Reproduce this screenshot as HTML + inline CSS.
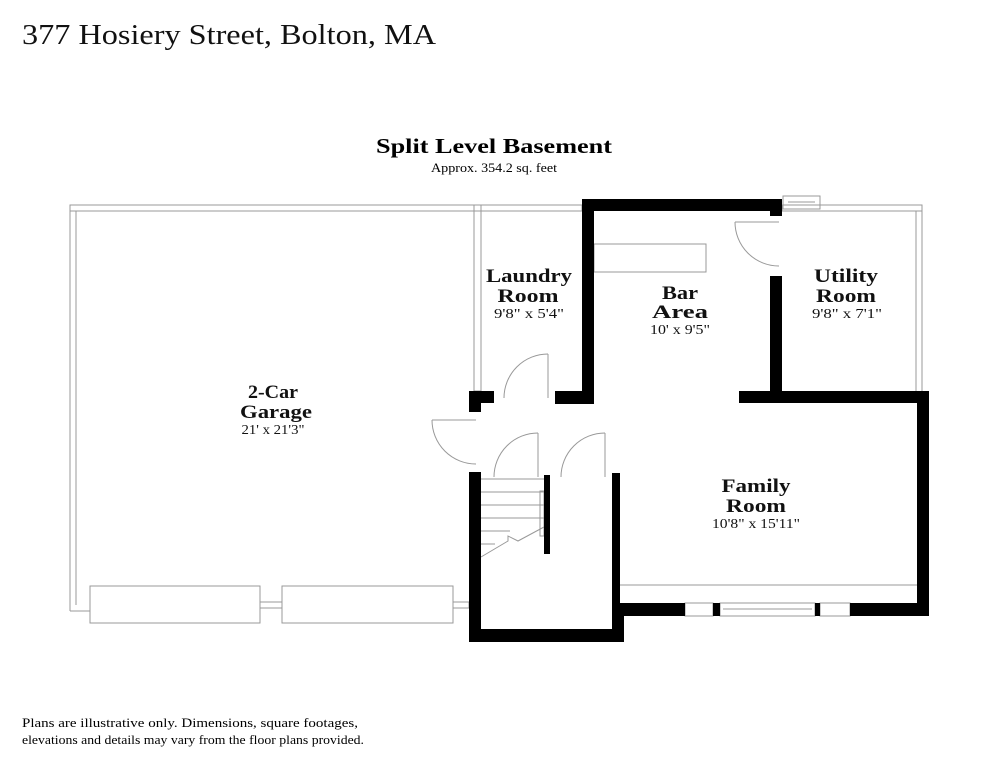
<!DOCTYPE html>
<html><head><meta charset="utf-8"><style>
body{margin:0;background:#fff;}
svg{display:block;font-family:"Liberation Serif",serif;}
</style></head><body>
<svg width="994" height="768" viewBox="0 0 994 768" xmlns="http://www.w3.org/2000/svg">
<rect width="994" height="768" fill="#fff"/>
<text x="22" y="44" font-size="29" fill="#111" textLength="414" lengthAdjust="spacingAndGlyphs">377 Hosiery Street, Bolton, MA</text>
<text x="494" y="153" font-size="21" font-weight="bold" text-anchor="middle" textLength="236" lengthAdjust="spacingAndGlyphs">Split Level Basement</text>
<text x="494" y="172" font-size="12.5" text-anchor="middle" textLength="126" lengthAdjust="spacingAndGlyphs">Approx. 354.2 sq. feet</text>

<g fill="none" stroke="#999" stroke-width="1">
<rect x="70" y="205" width="512" height="6"/>
<line x1="70" y1="205" x2="70" y2="611"/><line x1="76" y1="211" x2="76" y2="605"/>
<line x1="70" y1="611" x2="90" y2="611"/>
<rect x="474" y="205" width="7" height="186"/>
<rect x="90" y="586" width="170" height="37"/>
<rect x="282" y="586" width="171" height="37"/>
<rect x="260" y="602" width="22" height="6"/>
<rect x="453" y="602" width="16" height="6"/>
<rect x="782" y="205" width="140" height="6"/>
<line x1="922" y1="205" x2="922" y2="391"/><line x1="916" y1="211" x2="916" y2="391"/>
<rect x="783" y="196" width="37" height="13"/><line x1="788" y1="202" x2="815" y2="202"/>
<rect x="594" y="244" width="112" height="28"/>
<line x1="620" y1="585" x2="917" y2="585"/>
<rect x="685" y="603" width="28" height="13" fill="#fff"/>
<rect x="720" y="603" width="95" height="13" fill="#fff"/><line x1="723" y1="609" x2="812" y2="609"/>
<rect x="820" y="603" width="30" height="13" fill="#fff"/>
<line x1="548" y1="354" x2="548" y2="398"/><path d="M548 354 A44 44 0 0 0 504 398"/>
<line x1="432" y1="420" x2="476" y2="420"/><path d="M432 420 A44 44 0 0 0 476 464"/>
<line x1="538" y1="433" x2="538" y2="477"/><path d="M538 433 A44 44 0 0 0 494 477"/>
<line x1="605" y1="433" x2="605" y2="477"/><path d="M605 433 A44 44 0 0 0 561 477"/>
<line x1="735" y1="222" x2="779" y2="222"/><path d="M735 222 A44 44 0 0 0 779 266"/>
<line x1="481" y1="479" x2="544" y2="479"/>
<line x1="481" y1="492" x2="544" y2="492"/>
<line x1="481" y1="505" x2="544" y2="505"/>
<line x1="481" y1="518" x2="544" y2="518"/>
<line x1="481" y1="531" x2="510" y2="531"/>
<line x1="481" y1="544" x2="495" y2="544"/>
<rect x="540" y="491" width="4" height="45"/>
<path d="M481 557 L508 541 L508 536 L518 541 L544 527"/>
</g>

<g fill="#000">
<rect x="582" y="199" width="200" height="12"/>
<rect x="582" y="199" width="12" height="205"/>
<rect x="555" y="391" width="39" height="13"/>
<rect x="770" y="199" width="12" height="17"/>
<rect x="770" y="276" width="12" height="127"/>
<rect x="739" y="391" width="190" height="12"/>
<rect x="917" y="391" width="12" height="225"/>
<rect x="617" y="603" width="68" height="13"/>
<rect x="713" y="603" width="7" height="13"/>
<rect x="815" y="603" width="5" height="13"/>
<rect x="850" y="603" width="79" height="13"/>
<rect x="469" y="472" width="12" height="170"/>
<rect x="469" y="629" width="155" height="13"/>
<rect x="612" y="473" width="8" height="169"/>
<rect x="617" y="603" width="7" height="39"/>
<rect x="544" y="475" width="6" height="79"/>
<rect x="469" y="391" width="12" height="21"/>
<rect x="469" y="391" width="25" height="12"/>
</g>

<g text-anchor="middle" fill="#111" lengthAdjust="spacingAndGlyphs">
<text x="273" y="398" font-size="19" font-weight="bold" textLength="50" lengthAdjust="spacingAndGlyphs">2-Car</text>
<text x="276" y="418" font-size="19" font-weight="bold" textLength="72" lengthAdjust="spacingAndGlyphs">Garage</text>
<text x="273" y="434" font-size="13.5" textLength="63" lengthAdjust="spacingAndGlyphs">21' x 21'3"</text>
<text x="529" y="282" font-size="19" font-weight="bold" textLength="86" lengthAdjust="spacingAndGlyphs">Laundry</text>
<text x="528" y="302" font-size="19" font-weight="bold" textLength="61" lengthAdjust="spacingAndGlyphs">Room</text>
<text x="529" y="318" font-size="13.5" textLength="70" lengthAdjust="spacingAndGlyphs">9'8" x 5'4"</text>
<text x="680" y="299" font-size="19" font-weight="bold" textLength="36" lengthAdjust="spacingAndGlyphs">Bar</text>
<text x="680" y="318" font-size="19" font-weight="bold" textLength="56" lengthAdjust="spacingAndGlyphs">Area</text>
<text x="680" y="334" font-size="13.5" textLength="60" lengthAdjust="spacingAndGlyphs">10' x 9'5"</text>
<text x="846" y="282" font-size="19" font-weight="bold" textLength="64" lengthAdjust="spacingAndGlyphs">Utility</text>
<text x="846" y="302" font-size="19" font-weight="bold" textLength="60" lengthAdjust="spacingAndGlyphs">Room</text>
<text x="847" y="318" font-size="13.5" textLength="70" lengthAdjust="spacingAndGlyphs">9'8" x 7'1"</text>
<text x="756" y="492" font-size="19" font-weight="bold" textLength="69" lengthAdjust="spacingAndGlyphs">Family</text>
<text x="756" y="512" font-size="19" font-weight="bold" textLength="60" lengthAdjust="spacingAndGlyphs">Room</text>
<text x="756" y="528" font-size="13.5" textLength="88" lengthAdjust="spacingAndGlyphs">10'8" x 15'11"</text>
</g>
<text x="22" y="727" font-size="12.5" textLength="336" lengthAdjust="spacingAndGlyphs">Plans are illustrative only. Dimensions, square footages,</text>
<text x="22" y="744" font-size="12.5" textLength="342" lengthAdjust="spacingAndGlyphs">elevations and details may vary from the floor plans provided.</text>
</svg>
</body></html>
